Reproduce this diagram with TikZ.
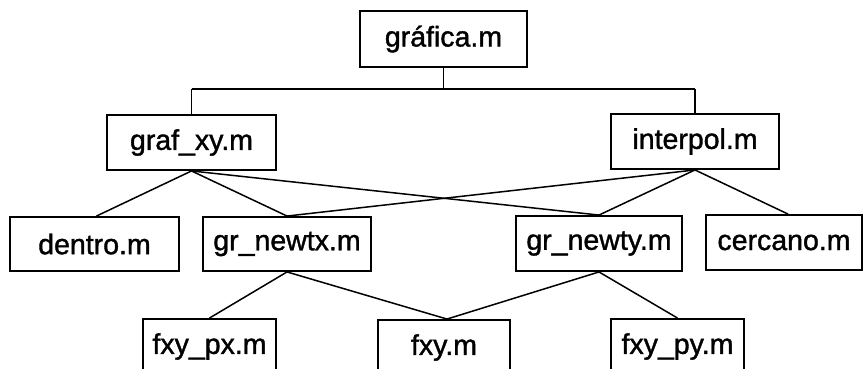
\documentclass[tikz,border=0pt]{standalone}
\usepackage{fontspec}
\setmainfont{Liberation Sans}[BoldFont=Liberation Sans, BoldFeatures={FakeBold=1.3}]
\begin{document}
\begin{tikzpicture}[x=1pt,y=-1pt,
  box/.style={draw=black, line width=1.9pt, inner sep=0pt, rectangle,
    font=\fontsize{28.5}{30}\selectfont\bfseries, text=black},
  link/.style={draw=black, line width=1.5pt}]
\useasboundingbox (0,0) rectangle (865,369);
\clip (0,0) rectangle (865,369);
% top
\node[box, minimum width=167pt, minimum height=56pt] (grafica) at (443.5,39) {gráfica.m};
% level 2
\node[box, minimum width=169pt, minimum height=55pt] (grafxy) at (191.5,142.5) {graf\_xy.m};
\node[box, minimum width=168pt, minimum height=55pt] (interpol) at (695,141.5) {interpol.m};
% level 3
\node[box, minimum width=169pt, minimum height=54pt] (dentro) at (94.5,244) {dentro.m};
\node[box, minimum width=168pt, minimum height=54pt] (grnewtx) at (287,244) {gr\_newtx.m};
\node[box, minimum width=166pt, minimum height=55pt] (grnewty) at (599,243.5) {gr\_newty.m};
\node[box, minimum width=156pt, minimum height=55pt] (cercano) at (784,242.5) {cercano.m};
% level 4
\node[box, minimum width=133pt, minimum height=55pt] (fxypx) at (209.5,346.5) {fxy\_px.m};
\node[box, minimum width=132pt, minimum height=55pt] (fxy) at (444,347.5) {fxy.m};
\node[box, minimum width=133pt, minimum height=55pt] (fxypy) at (677.5,346.5) {fxy\_py.m};
% bus
\coordinate (busmid) at (grafica.south |- 0,89);
\coordinate (busl) at (grafxy.north |- 0,89);
\coordinate (busr) at (interpol.north |- 0,89);
\draw[link] (grafica.south) -- (busmid);
\draw[link] (busl) -- (busr);
\draw[link] (busl) -- (grafxy.north);
\draw[link] (busr) -- (interpol.north);
% diagonals
\draw[link] (grafxy.south) -- ([xshift=2pt]dentro.north);
\draw[link] (grafxy.south) -- (grnewtx.north);
\draw[link] (grafxy.south) -- (grnewty.north);
\draw[link] (interpol.south) -- (grnewtx.north);
\draw[link] (interpol.south) -- (grnewty.north);
\draw[link] (interpol.south) -- ([xshift=4pt]cercano.north);
\draw[link] (grnewtx.south) -- (fxypx.north);
\draw[link] (grnewtx.south) -- ([xshift=3pt]fxy.north);
\draw[link] (grnewty.south) -- ([xshift=3pt]fxy.north);
\draw[link] (grnewty.south) -- (fxypy.north);
\end{tikzpicture}
\end{document}
